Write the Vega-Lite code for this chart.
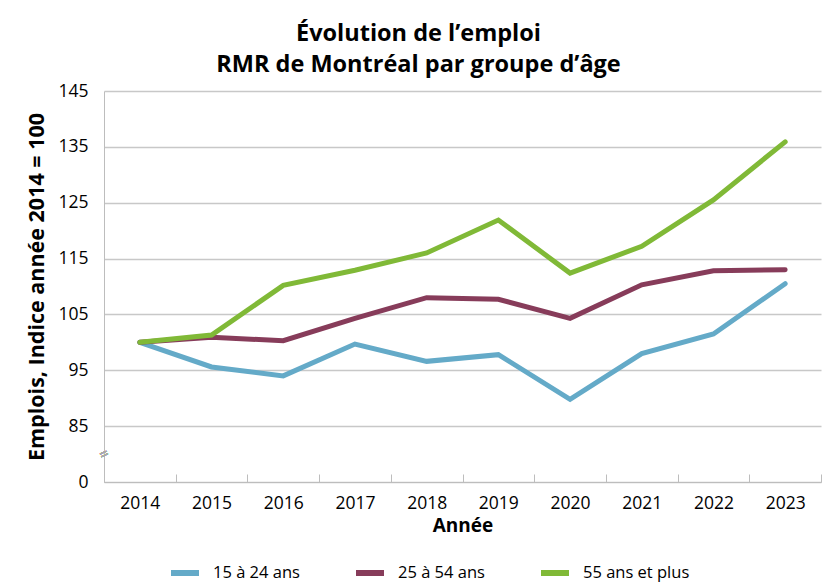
{
  "$schema": "https://vega.github.io/schema/vega-lite/v6.json",
  "width": 717,
  "height": 391,
  "autosize": "none",
  "padding": {"left": 104, "top": 91, "right": 9, "bottom": 101},
  "background": "white",
  "config": {
    "font": "Open Sans",
    "view": {"stroke": null}
  },
  "title": {
    "text": ["Évolution de l’emploi", "RMR de Montréal par groupe d’âge"],
    "font": "Open Sans",
    "fontSize": 23.5,
    "fontWeight": "bold",
    "color": "#000000",
    "anchor": "middle",
    "lineHeight": 31,
    "offset": 6,
    "dx": -44
  },
  "data": {
    "values": [
      {"annee": "2014", "groupe": "15 à 24 ans", "indice": 100},
      {"annee": "2015", "groupe": "15 à 24 ans", "indice": 95.6},
      {"annee": "2016", "groupe": "15 à 24 ans", "indice": 94.0},
      {"annee": "2017", "groupe": "15 à 24 ans", "indice": 99.7},
      {"annee": "2018", "groupe": "15 à 24 ans", "indice": 96.6},
      {"annee": "2019", "groupe": "15 à 24 ans", "indice": 97.8},
      {"annee": "2020", "groupe": "15 à 24 ans", "indice": 89.8},
      {"annee": "2021", "groupe": "15 à 24 ans", "indice": 98.0},
      {"annee": "2022", "groupe": "15 à 24 ans", "indice": 101.5},
      {"annee": "2023", "groupe": "15 à 24 ans", "indice": 110.5},
      {"annee": "2014", "groupe": "25 à 54 ans", "indice": 100},
      {"annee": "2015", "groupe": "25 à 54 ans", "indice": 100.9},
      {"annee": "2016", "groupe": "25 à 54 ans", "indice": 100.3},
      {"annee": "2017", "groupe": "25 à 54 ans", "indice": 104.3},
      {"annee": "2018", "groupe": "25 à 54 ans", "indice": 108.0},
      {"annee": "2019", "groupe": "25 à 54 ans", "indice": 107.7},
      {"annee": "2020", "groupe": "25 à 54 ans", "indice": 104.3},
      {"annee": "2021", "groupe": "25 à 54 ans", "indice": 110.3},
      {"annee": "2022", "groupe": "25 à 54 ans", "indice": 112.8},
      {"annee": "2023", "groupe": "25 à 54 ans", "indice": 113.0},
      {"annee": "2014", "groupe": "55 ans et plus", "indice": 100},
      {"annee": "2015", "groupe": "55 ans et plus", "indice": 101.3},
      {"annee": "2016", "groupe": "55 ans et plus", "indice": 110.2},
      {"annee": "2017", "groupe": "55 ans et plus", "indice": 112.9},
      {"annee": "2018", "groupe": "55 ans et plus", "indice": 116.0},
      {"annee": "2019", "groupe": "55 ans et plus", "indice": 121.9},
      {"annee": "2020", "groupe": "55 ans et plus", "indice": 112.4},
      {"annee": "2021", "groupe": "55 ans et plus", "indice": 117.2},
      {"annee": "2022", "groupe": "55 ans et plus", "indice": 125.5},
      {"annee": "2023", "groupe": "55 ans et plus", "indice": 135.9}
    ]
  },
  "layer": [
    {
      "mark": {"type": "line", "strokeWidth": 5, "strokeCap": "round"},
      "encoding": {
        "x": {
          "field": "annee",
          "type": "ordinal",
          "bandPosition": 0.5,
          "scale": {"type": "band", "paddingInner": 0, "paddingOuter": 0},
          "axis": {
            "title": "Année",
            "titleFont": "Open Sans",
            "titleFontSize": 19,
            "titleFontWeight": "bold",
            "titleColor": "#000000",
            "titlePadding": 5,
            "labelAngle": 0,
            "labelFont": "Open Sans",
            "labelFontSize": 17.5,
            "labelColor": "#000000",
            "labelPadding": 20,
            "tickBand": "extent",
            "tickSize": -8,
            "tickColor": "#bdbdbd",
            "domainColor": "#bdbdbd",
            "grid": false
          }
        },
        "y": {
          "field": "indice",
          "type": "quantitative",
          "scale": {"domain": [75, 145], "nice": false, "zero": false},
          "axis": {
            "title": "Emplois, Indice année 2014 = 100",
            "titleFont": "Open Sans",
            "titleFontSize": 21.5,
            "titleFontWeight": "bold",
            "titleColor": "#000000",
            "titlePadding": 9,
            "values": [75, 85, 95, 105, 115, 125, 135, 145],
            "labelExpr": "datum.value == 75 ? '0' : datum.label",
            "labelFont": "Open Sans",
            "labelFontSize": 17.5,
            "labelColor": "#000000",
            "labelPadding": 16,
            "ticks": false,
            "grid": true,
            "gridColor": "#c8c8c8",
            "gridWidth": 1.3,
            "domainColor": "#bdbdbd"
          }
        },
        "color": {
          "field": "groupe",
          "type": "nominal",
          "scale": {
            "domain": ["15 à 24 ans", "25 à 54 ans", "55 ans et plus"],
            "range": ["#64aac8", "#873c5a", "#80b937"]
          },
          "legend": {
            "title": null,
            "orient": "none",
            "legendX": 64,
            "legendY": 465,
            "direction": "horizontal",
            "columns": 3,
            "columnPadding": 44,
            "symbolType": "stroke",
            "symbolSize": 784,
            "symbolStrokeWidth": 6,
            "labelOffset": 11,
            "labelFont": "Open Sans",
            "labelFontSize": 16.5,
            "labelColor": "#000000"
          }
        }
      }
    },
    {
      "mark": {"type": "text", "text": "=", "angle": -25, "fontSize": 15, "color": "#aaaaaa"},
      "encoding": {
        "x": {"datum": "2014", "type": "ordinal", "bandPosition": 0},
        "y": {"datum": 80, "type": "quantitative"}
      }
    }
  ]
}
